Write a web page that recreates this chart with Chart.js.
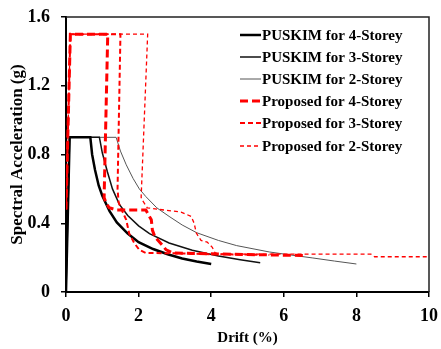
<!DOCTYPE html>
<html>
<head>
<meta charset="utf-8">
<script src="https://cdn.jsdelivr.net/npm/chart.js@4.4.0/dist/chart.umd.min.js"></script>
<style>
  body { margin: 0; background: #fff; }
  #wrap { width: 441px; height: 349px; }
</style>
</head>
<body>
<div id="wrap"><canvas id="c" width="441" height="349"></canvas></div>
<script>
// drift (%) and spectral acceleration (g)
var puskim4Drift = [0, 0.1, 0.67, 0.72, 0.8, 0.9, 1.0, 1.2, 1.4, 1.7, 2.0, 2.4, 2.8, 3.2, 3.6, 4.0];
var puskim4Sa    = [0, 0.9, 0.9, 0.8, 0.71, 0.62, 0.56, 0.47, 0.405, 0.34, 0.29, 0.25, 0.22, 0.195, 0.178, 0.163];

var puskim3Drift = [0, 0.1, 0.92, 1.0, 1.14, 1.28, 1.47, 1.7, 2.0, 2.3, 2.84, 3.48, 4.2, 4.8, 5.35];
var puskim3Sa    = [0, 0.9, 0.9, 0.81, 0.7, 0.6, 0.51, 0.445, 0.385, 0.34, 0.285, 0.243, 0.21, 0.188, 0.17];

var puskim2Drift = [0, 0.1, 1.38, 1.5, 1.66, 1.85, 2.02, 2.2, 2.5, 2.84, 3.2, 3.6, 4.2, 4.7, 5.6, 6.2, 6.8, 7.4, 8.0];
var puskim2Sa    = [0, 0.9, 0.9, 0.82, 0.74, 0.66, 0.6, 0.555, 0.49, 0.44, 0.39, 0.345, 0.30, 0.27, 0.233, 0.215, 0.198, 0.18, 0.163];

var prop4Drift = [0, 0.12, 1.15, 1.05, 1.1, 1.19, 1.4, 2.2, 2.35, 2.38, 2.45, 2.6, 2.76, 2.95, 4.0, 5.0, 6.6];
var prop4Sa    = [0.48, 1.5, 1.5, 0.55, 0.52, 0.49, 0.477, 0.477, 0.42, 0.36, 0.32, 0.285, 0.245, 0.227, 0.222, 0.218, 0.212];

var prop3Drift = [0, 0.12, 1.5, 1.42, 1.45, 1.55, 1.66, 1.74, 1.88, 2.02, 2.2, 3.0, 4.0, 5.0, 5.6];
var prop3Sa    = [0.48, 1.5, 1.5, 0.6, 0.52, 0.47, 0.42, 0.34, 0.285, 0.245, 0.227, 0.225, 0.22, 0.218, 0.215];

var prop2Drift = [0, 0.12, 2.25, 2.07, 2.1, 2.24, 2.7, 3.17, 3.45, 3.53, 3.59, 3.72, 3.89, 4.03, 4.1, 4.2, 8.4, 8.5, 10];
var prop2Sa    = [0.48, 1.5, 1.5, 0.55, 0.535, 0.49, 0.477, 0.465, 0.44, 0.40, 0.343, 0.30, 0.29, 0.26, 0.23, 0.22, 0.22, 0.205, 0.205];

var seriesLabels = ["PUSKIM for 4-Storey", "PUSKIM for 3-Storey", "PUSKIM for 2-Storey",
                    "Proposed for 4-Storey", "Proposed for 3-Storey", "Proposed for 2-Storey"];
var xTicks = [0, 2, 4, 6, 8, 10];
var yTicks = [0, 0.4, 0.8, 1.2, 1.6];

function pts(xs, ys) {
    var out = [];
    for (let i = 0; i < xs.length; i++) out.push({x: xs[i], y: ys[i]});
    return out;
}

function line(label, xs, ys, color, width, dash, order) {
    return {
        label: label, data: pts(xs, ys), showLine: true, fill: false,
        borderColor: color, borderWidth: width, borderDash: dash,
        pointRadius: 0, tension: 0, order: order
    };
}

var font = "'Liberation Serif', 'Times New Roman', serif";

// legend drawn inside the plot, top right, plus the top/right frame
var boxLegend = {
    id: 'boxLegend',
    afterDraw: function(chart) {
        let c = chart.ctx;
        let a = chart.chartArea;
        c.save();
        c.strokeStyle = "#222";
        c.lineWidth = 1.5;
        c.beginPath();
        c.moveTo(a.left, a.top);
        c.lineTo(a.right, a.top);
        c.lineTo(a.right, a.bottom);
        c.stroke();
        let ds = chart.data.datasets;
        let rowY = [35, 57, 79, 101, 123, 146];
        for (let i = 0; i < ds.length; i++) {
            let y = rowY[i];
            c.beginPath();
            c.strokeStyle = ds[i].borderColor;
            c.lineWidth = ds[i].borderWidth;
            c.setLineDash(ds[i].borderDash || []);
            c.moveTo(240, y);
            c.lineTo(261, y);
            c.stroke();
            c.setLineDash([]);
            c.fillStyle = "#000";
            c.font = "bold 15px " + font;
            c.textBaseline = "middle";
            c.textAlign = "left";
            c.fillText(ds[i].label, 262, y + 1);
        }
        c.restore();
    }
};

var config = {
    type: 'scatter',
    data: {
        datasets: [
            line(seriesLabels[0], puskim4Drift, puskim4Sa, "#000", 2.5, [], 2),
            line(seriesLabels[1], puskim3Drift, puskim3Sa, "#111", 1.5, [], 2),
            line(seriesLabels[2], puskim2Drift, puskim2Sa, "#555", 1, [], 2),
            line(seriesLabels[3], prop4Drift, prop4Sa, "#ff0000", 3, [8, 4], 1),
            line(seriesLabels[4], prop3Drift, prop3Sa, "#ff0000", 2, [5, 3], 1),
            line(seriesLabels[5], prop2Drift, prop2Sa, "#ff0000", 1.3, [4, 3], 1)
        ]
    },
    options: {
        responsive: false,
        animation: false,
        layout: { padding: { left: 0, top: 17, right: 12, bottom: 0 } },
        plugins: { legend: { display: false }, tooltip: { enabled: false } },
        scales: {
            x: {
                type: 'linear', min: 0, max: 10,
                afterBuildTicks: function(s) { s.ticks = xTicks.map(function(v) { return {value: v}; }); },
                afterFit: function(s) { s.height = 57; s.paddingLeft = 0; s.paddingRight = 0; },
                grid: { drawOnChartArea: false, drawTicks: true, tickLength: 5, color: "#000", lineWidth: 1.5 },
                border: { color: "#000", width: 2 },
                ticks: { color: "#000", padding: 9, font: { family: font, size: 18, weight: 'bold' } },
                title: { display: true, text: "Drift (%)", color: "#000", padding: { top: 0, bottom: 2 },
                         font: { family: font, size: 15, weight: 'bold' } }
            },
            y: {
                type: 'linear', min: 0, max: 1.6,
                afterBuildTicks: function(s) { s.ticks = yTicks.map(function(v) { return {value: v}; }); },
                afterFit: function(s) { s.width = 66; s.paddingTop = 0; s.paddingBottom = 0; },
                grid: { drawOnChartArea: false, drawTicks: true, tickLength: 5, color: "#000", lineWidth: 1.5 },
                border: { color: "#000", width: 2 },
                ticks: { color: "#000", padding: 11, font: { family: font, size: 18, weight: 'bold' } },
                title: { display: true, text: "Spectral Acceleration (g)", color: "#000", padding: { top: 7, bottom: 0 },
                         font: { family: font, size: 17, weight: 'bold' } }
            }
        }
    },
    plugins: [boxLegend]
};

var myChart = new Chart(document.getElementById("c").getContext("2d"), config);
</script>
</body>
</html>
